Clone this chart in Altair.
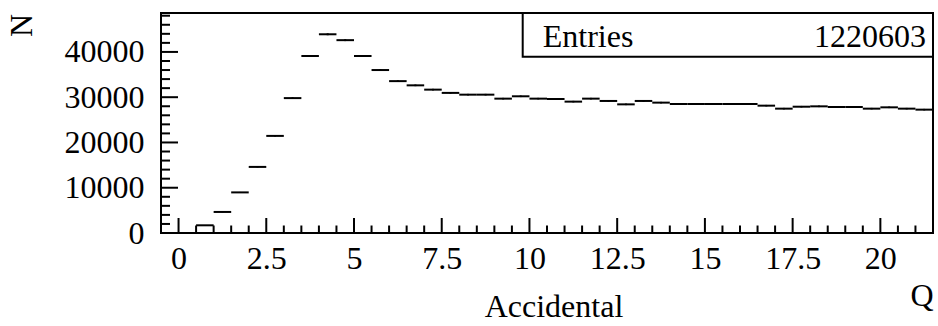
import altair as alt
import pandas as pd

# ---- data ----
bin_lo = [0.5, 1.0, 1.5, 2.0, 2.5, 3.0, 3.5, 4.0, 4.5, 5.0, 5.5, 6.0, 6.5, 7.0,
          7.5, 8.0, 8.5, 9.0, 9.5, 10.0, 10.5, 11.0, 11.5, 12.0, 12.5, 13.0,
          13.5, 14.0, 14.5, 15.0, 15.5, 16.0, 16.5, 17.0, 17.5, 18.0, 18.5,
          19.0, 19.5, 20.0, 20.5, 21.0]
counts = [1700, 4650, 8970, 14600, 21450, 29800, 39100, 43900, 42600, 39100,
          36000, 33550, 32620, 31670, 30950, 30560, 30560, 29680, 30200, 29680,
          29600, 29020, 29680, 29170, 28420, 29170, 28800, 28500, 28500, 28500,
          28500, 28500, 28130, 27470, 27900, 27980, 27840, 27840, 27470, 27760,
          27470, 27250]
bin_width = 0.5

x_major = [0, 2.5, 5, 7.5, 10, 12.5, 15, 17.5, 20]
x_minor = [0.5, 1.0, 1.5, 2.0, 3.0, 3.5, 4.0, 4.5, 5.5, 6.0, 6.5, 7.0, 8.0, 8.5,
           9.0, 9.5, 10.5, 11.0, 11.5, 12.0, 13.0, 13.5, 14.0, 14.5, 15.5,
           16.0, 16.5, 17.0, 18.0, 18.5, 19.0, 19.5, 20.5, 21.0]
y_major = [0, 10000, 20000, 30000, 40000]
y_minor = [2000, 4000, 6000, 8000, 12000, 14000, 16000, 18000, 22000, 24000,
           26000, 28000, 32000, 34000, 36000, 38000, 42000, 44000, 46000, 48000]

x_title = "Q"
y_title = "N"
caption = "Accidental"
stats_label = "Entries"
stats_value = "1220603"

FONT = "Liberation Serif, Times New Roman, DejaVu Serif, serif"
FS = 32
W, H = 772, 220

df = pd.DataFrame({"lo": bin_lo, "n": counts})
xs = alt.Scale(domain=[-0.5, 21.5], nice=False, zero=False)
ys = alt.Scale(domain=[0, 48600], nice=False, zero=True)

xaxis = alt.Axis(values=x_major, labelExpr="toString(datum.value)", title=x_title,
                 domain=False, ticks=False, grid=False, labelFont=FONT,
                 labelFontSize=FS, labelColor="black", labelPadding=10,
                 labelFlush=False, labelOverlap=False,
                 titleFont=FONT, titleFontSize=FS, titleFontWeight="normal",
                 titleColor="black", titleAnchor="end", titleAlign="right",
                 titleBaseline="alphabetic", titleX=W, titleY=72)
yaxis = alt.Axis(values=y_major, format="d", title=y_title, domain=False,
                 ticks=False, grid=False, labelFont=FONT, labelFontSize=FS,
                 labelColor="black", labelPadding=17, labelFlush=False,
                 labelOverlap=False,
                 titleFont=FONT, titleFontSize=FS, titleFontWeight="normal",
                 titleColor="black", titleAngle=270, titleAlign="center",
                 titleBaseline="middle", titleX=-140, titleY=12)

hist = alt.Chart(df).transform_calculate(
    hi=f"datum.lo + {bin_width}"
).mark_rule(color="black", strokeWidth=2).encode(
    x=alt.X("lo:Q", scale=xs, axis=xaxis),
    x2="hi:Q",
    y=alt.Y("n:Q", scale=ys, axis=yaxis),
)

err = alt.Chart(df).transform_calculate(
    c=f"datum.lo + {bin_width / 2}",
    e1="datum.n - sqrt(datum.n)",
    e2="datum.n + sqrt(datum.n)",
).mark_rule(color="black", strokeWidth=2).encode(
    x=alt.X("c:Q", scale=xs, axis=xaxis),
    y=alt.Y("e1:Q", scale=ys, axis=yaxis),
    y2="e2:Q",
)

xmaj = alt.Chart(pd.DataFrame({"t": x_major})).mark_rule(
    color="black", strokeWidth=2).encode(
    x=alt.X("t:Q", scale=xs, axis=xaxis), y=alt.value(H), y2=alt.value(H - 15))
xmin = alt.Chart(pd.DataFrame({"t": x_minor})).mark_rule(
    color="black", strokeWidth=2).encode(
    x=alt.X("t:Q", scale=xs, axis=xaxis), y=alt.value(H), y2=alt.value(H - 7.5))
ymaj = alt.Chart(pd.DataFrame({"t": y_major})).mark_rule(
    color="black", strokeWidth=2).encode(
    y=alt.Y("t:Q", scale=ys, axis=yaxis), x=alt.value(0), x2=alt.value(17))
ymin = alt.Chart(pd.DataFrame({"t": y_minor})).mark_rule(
    color="black", strokeWidth=2).encode(
    y=alt.Y("t:Q", scale=ys, axis=yaxis), x=alt.value(0), x2=alt.value(9))

one = pd.DataFrame({"a": [stats_label], "b": [stats_value], "c": [caption]})
box = alt.Chart(one).mark_rect(fill="white", stroke="black", strokeWidth=2).encode(
    x=alt.value(361.7), x2=alt.value(W), y=alt.value(0), y2=alt.value(43.7))
t_lab = alt.Chart(one).mark_text(font=FONT, fontSize=FS, align="left",
                                 baseline="alphabetic", color="black").encode(
    text="a:N", x=alt.value(381.7), y=alt.value(33.7))
t_val = alt.Chart(one).mark_text(font=FONT, fontSize=FS, align="right",
                                 baseline="alphabetic", color="black").encode(
    text="b:N", x=alt.value(765), y=alt.value(33.7))
t_cap = alt.Chart(one).mark_text(font=FONT, fontSize=FS, align="center",
                                 baseline="alphabetic", color="black").encode(
    text="c:N", x=alt.value(554 - 161), y=alt.value(317 - 13))

chart = alt.layer(hist, err, xmaj, xmin, ymaj, ymin, box, t_lab, t_val, t_cap).properties(
    width=W, height=H,
    padding={"left": 161, "top": 13, "right": 5, "bottom": 93},
    autosize=alt.AutoSizeParams(type="none"),
    background="white",
).configure_view(stroke="black", strokeWidth=2)

chart.save("out.html", embed_options={"renderer": "svg", "actions": False})
